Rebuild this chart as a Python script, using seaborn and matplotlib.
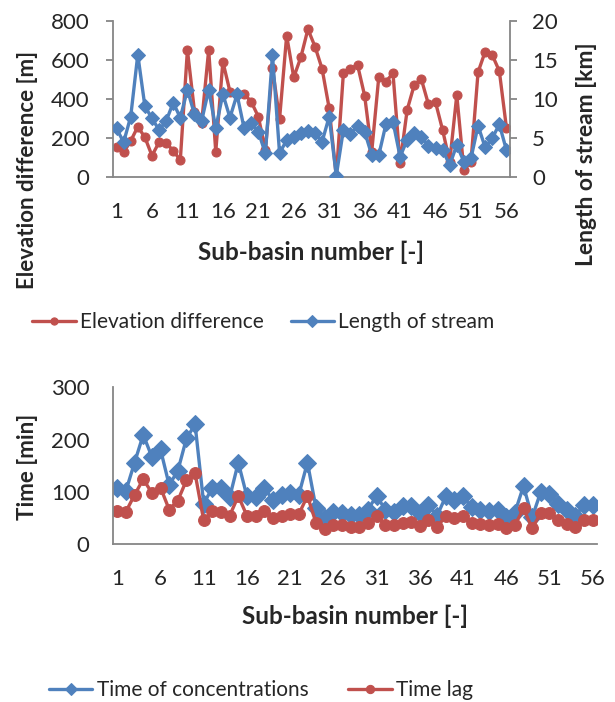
import matplotlib

matplotlib.use("Agg")

import matplotlib.pyplot as plt
import numpy as np
import seaborn as sns
from matplotlib.ticker import FixedLocator, MultipleLocator

sns.set_style("white")
plt.rcParams["font.family"] = ["Lato", "DejaVu Sans"]

RED = "#C0504D"
BLUE = "#4F81BD"
GREY = "#868686"

sub_basin = np.arange(1, 57)
x_tick_labels = [1, 6, 11, 16, 21, 26, 31, 36, 41, 46, 51, 56]

elevation_difference = [
    154, 128, 186, 259, 205, 111, 179, 177, 135, 89,
    652, 336, 276, 652, 131, 592, 439, 427, 427, 387,
    311, 140, 558, 299, 725, 512, 614, 758, 669, 555,
    353, 5, 532, 555, 575, 418, 131, 515, 490, 532,
    72, 345, 473, 502, 374, 384, 242, 80, 421, 38,
    80, 538, 643, 626, 544, 254,
]
length_of_stream = [
    6.27, 4.48, 7.76, 15.7, 9.1, 7.55, 6.06, 7.2, 9.55, 7.63,
    11.2, 8.06, 7.2, 11.2, 6.27, 10.66, 7.63, 10.6, 6.27, 7.0,
    5.84, 3.07, 15.65, 3.07, 4.78, 5.2, 5.63, 5.93, 5.63, 4.56,
    7.76, 0.2, 6.06, 5.5, 6.6, 5.84, 2.86, 2.86, 6.78, 7.12,
    2.64, 4.78, 5.63, 5.2, 4.05, 3.8, 3.5, 1.58, 4.14, 2.0,
    2.43, 6.6, 3.84, 5.0, 6.78, 3.5,
]
time_of_concentration = [
    108, 102, 156, 209, 167, 181, 113, 140, 202, 229,
    77, 108, 107, 89, 156, 91, 89, 108, 84, 94,
    97, 94, 156, 68, 49, 62, 60, 56, 56, 66,
    92, 66, 62, 72, 73, 60, 75, 54, 91, 84,
    91, 70, 65, 64, 66, 52, 60, 111, 51, 100,
    96, 77, 66, 54, 75, 75,
]
time_lag = [
    64, 62, 94, 124, 98, 108, 66, 83, 122, 135,
    45, 64, 62, 54, 92, 54, 54, 64, 49, 54,
    57, 57, 92, 40, 28, 36, 36, 33, 33, 40,
    54, 36, 36, 41, 43, 34, 45, 32, 54, 49,
    54, 40, 38, 36, 38, 30, 36, 68, 30, 59,
    59, 45, 38, 32, 45, 45,
]

TICK_FS = 16
YLABEL_FS = 16
XLABEL_FS = 17.5
LEGEND_FS = 15


def style_axis(ax, spines):
    for name, spine in ax.spines.items():
        spine.set_visible(name in spines)
        spine.set_color(GREY)
        spine.set_linewidth(1.3)
    ax.set_xlim(0.5, 56.5)
    ax.xaxis.set_major_locator(FixedLocator(x_tick_labels))
    ax.xaxis.set_minor_locator(FixedLocator(np.arange(0.5, 57, 1)))
    ax.tick_params(axis="x", which="major", length=0, pad=18, labelsize=TICK_FS)
    ax.tick_params(axis="x", which="minor", length=5, width=1.1, color=GREY, direction="out")
    ax.tick_params(axis="y", length=5, width=1.3, color=GREY, direction="out", pad=12,
                   labelsize=TICK_FS)
    ax.grid(False)
    ax.set_xlabel("")
    ax.set_ylabel("")


fig = plt.figure(figsize=(6.15, 7.02), dpi=100)

# top chart
ax1 = fig.add_axes([0.1837, 0.7474, 0.6455, 0.2227])
sns.lineplot(x=sub_basin, y=elevation_difference, ax=ax1, color=RED, marker="o",
             markersize=6.5, markeredgecolor=RED, linewidth=2.4, legend=False)
ax1.set_ylim(0, 800)
ax1.yaxis.set_major_locator(MultipleLocator(200))
style_axis(ax1, ["left", "bottom"])

ax2 = ax1.twinx()
sns.lineplot(x=sub_basin, y=length_of_stream, ax=ax2, color=BLUE, marker="D",
             markersize=7.5, markeredgecolor=BLUE, linewidth=2.4, legend=False)
ax2.set_ylim(0, 20)
ax2.yaxis.set_major_locator(MultipleLocator(5))
style_axis(ax2, ["right"])
ax2.tick_params(axis="y", pad=11)

fig.text(0.045, 0.758, "Elevation difference [m]", rotation=90, ha="center", va="center",
         fontsize=YLABEL_FS, fontweight="bold")
fig.text(0.953, 0.780, "Length of stream [km]", rotation=90, ha="center", va="center",
         fontsize=YLABEL_FS + 0.5, fontweight="bold")
fig.text(0.5065, 0.641, "Sub-basin number [-]", ha="center", va="center",
         fontsize=XLABEL_FS, fontweight="bold")

fig.legend([ax1.lines[0], ax2.lines[0]], ["Elevation difference", "Length of stream"],
           loc="center", bbox_to_anchor=(0.428, 0.5413), ncol=2, frameon=False,
           fontsize=LEGEND_FS, handlelength=2.1, handletextpad=0.2, columnspacing=1.3,
           markerscale=0.8)

# bottom chart
ax3 = fig.add_axes([0.1837, 0.2251, 0.787, 0.2232])
sns.lineplot(x=sub_basin, y=time_of_concentration, ax=ax3, color=BLUE, marker="D",
             markersize=9, markeredgecolor=BLUE, linewidth=2.4, legend=False)
sns.lineplot(x=sub_basin, y=time_lag, ax=ax3, color=RED, marker="o",
             markersize=8.5, markeredgecolor=RED, linewidth=2.4, legend=False)
ax3.set_ylim(0, 300)
ax3.yaxis.set_major_locator(MultipleLocator(100))
style_axis(ax3, ["left", "bottom"])

fig.text(0.044, 0.335, "Time [min]", rotation=90, ha="center", va="center",
         fontsize=YLABEL_FS, fontweight="bold")
fig.text(0.577, 0.1225, "Sub-basin number [-]", ha="center", va="center",
         fontsize=XLABEL_FS, fontweight="bold")

fig.legend([ax3.lines[0], ax3.lines[1]], ["Time of concentrations", "Time lag"],
           loc="center", bbox_to_anchor=(0.424, 0.0171), ncol=2, frameon=False,
           fontsize=LEGEND_FS, handlelength=2.1, handletextpad=0.2, columnspacing=1.9,
           markerscale=0.7)

fig.savefig("out.png", dpi=100)
